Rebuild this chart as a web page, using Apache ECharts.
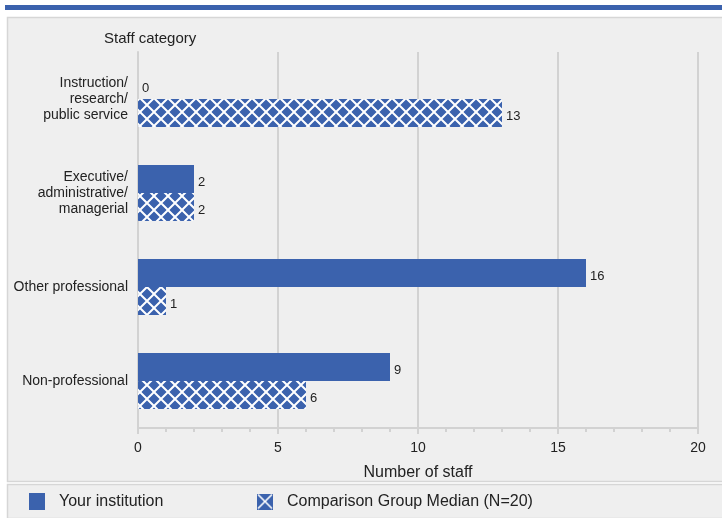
<!DOCTYPE html>
<html><head><meta charset="utf-8">
<script src="https://cdn.jsdelivr.net/npm/echarts@6/dist/echarts.min.js"></script>
<style>html,body{margin:0;padding:0;background:#fff}#c{width:722px;height:518px}</style>
</head><body><div id="c"></div>
<script>
const categories = ['Instruction/\nresearch/\npublic service', 'Executive/\nadministrative/\nmanagerial', 'Other professional', 'Non-professional'];
const yourInstitution = [0, 2, 16, 9];
const comparisonMedian = [13, 2, 1, 6];
const xTicks = [0, 5, 10, 15, 20];
const seriesNames = ['Your institution', 'Comparison Group Median (N=20)'];

const BLUE = '#3b62ad';
function makeHatch(size, lw) {
  const c = document.createElement('canvas');
  c.width = size; c.height = size;
  const g = c.getContext('2d');
  g.fillStyle = BLUE; g.fillRect(0, 0, size, size);
  g.strokeStyle = '#fff'; g.lineWidth = lw;
  g.beginPath();
  g.moveTo(-1, -1); g.lineTo(size + 1, size + 1);
  g.moveTo(size + 1, -1); g.lineTo(-1, size + 1);
  g.stroke();
  return c;
}
const hatch = makeHatch(14, 2);
function makeIcon() {
  const c = document.createElement('canvas');
  c.width = 16; c.height = 16;
  const g = c.getContext('2d');
  g.fillStyle = BLUE; g.fillRect(0, 0, 16, 16);
  g.strokeStyle = '#fff'; g.lineWidth = 1.6;
  g.beginPath(); g.moveTo(1, 1); g.lineTo(15, 15); g.moveTo(15, 1); g.lineTo(1, 15); g.stroke();
  return c.toDataURL();
}

const chart = echarts.init(document.getElementById('c'));
const font = 'Liberation Sans, Arial, sans-serif';
const legendText = { fontSize: 16, color: '#222', fontFamily: font, padding: [0, 0, 0, 9] };
chart.setOption({
  animation: false,
  textStyle: { fontFamily: font },
  graphic: [
    { type: 'rect', shape: { x: 5, y: 5, width: 717, height: 5 }, style: { fill: BLUE }, z: -10 },
    { type: 'rect', shape: { x: 7.5, y: 17.5, width: 716, height: 464 }, style: { fill: '#efefef', stroke: '#d6d6d6', lineWidth: 1.5 }, z: -10 },
    { type: 'rect', shape: { x: 7.5, y: 484.5, width: 716, height: 34 }, style: { fill: '#efefef', stroke: '#d6d6d6', lineWidth: 1.5 }, z: -10 }
  ],
  legend: [
    {
      left: 24, top: 488, itemWidth: 16, itemHeight: 17, textStyle: legendText,
      data: [{ name: seriesNames[0], icon: 'rect' }]
    },
    {
      left: 252, top: 488, itemWidth: 16, itemHeight: 17, textStyle: legendText,
      data: [{ name: seriesNames[1], icon: 'image://' + makeIcon() }]
    }
  ],
  grid: { left: 138, right: 24, top: 52, bottom: 90 },
  xAxis: {
    type: 'value', min: 0, max: 20, interval: 5,
    name: 'Number of staff', nameLocation: 'middle', nameGap: 37,
    nameTextStyle: { fontSize: 16, color: '#222', fontFamily: font },
    axisLine: { show: true, lineStyle: { color: '#d2d2d2', width: 2 } },
    axisTick: { show: true, length: 6, lineStyle: { color: '#d2d2d2', width: 2 } },
    minorTick: { show: true, splitNumber: 5, length: 4, lineStyle: { color: '#d2d2d2', width: 2 } },
    axisLabel: { fontSize: 14, color: '#222', margin: 13, formatter: v => xTicks.includes(v) ? String(v) : '' },
    splitLine: { show: true, lineStyle: { color: '#d2d2d2', width: 2 } }
  },
  yAxis: {
    type: 'category', data: categories, inverse: true,
    name: 'Staff category', nameLocation: 'start', nameGap: 6,
    nameTextStyle: { fontSize: 15, color: '#222', fontFamily: font, align: 'left', padding: [0, 0, 0, -34] },
    axisLine: { show: true, lineStyle: { color: '#d2d2d2', width: 2 } },
    axisTick: { show: false },
    axisLabel: { fontSize: 14, color: '#222', lineHeight: 16, margin: 10, align: 'right', padding: [5, 0, 0, 0] },
    splitLine: { show: false }
  },
  series: [
    {
      name: seriesNames[0], type: 'bar', data: yourInstitution,
      barWidth: 28, barGap: '0%',
      itemStyle: { color: BLUE },
      label: { show: true, position: 'right', distance: 4, fontSize: 13, color: '#222', offset: [0, 3] }
    },
    {
      name: seriesNames[1], type: 'bar', data: comparisonMedian,
      barWidth: 28, barGap: '0%',
      itemStyle: { color: { image: hatch, repeat: 'repeat' } },
      label: { show: true, position: 'right', distance: 4, fontSize: 13, color: '#222', offset: [0, 3] }
    }
  ]
});
</script></body></html>
